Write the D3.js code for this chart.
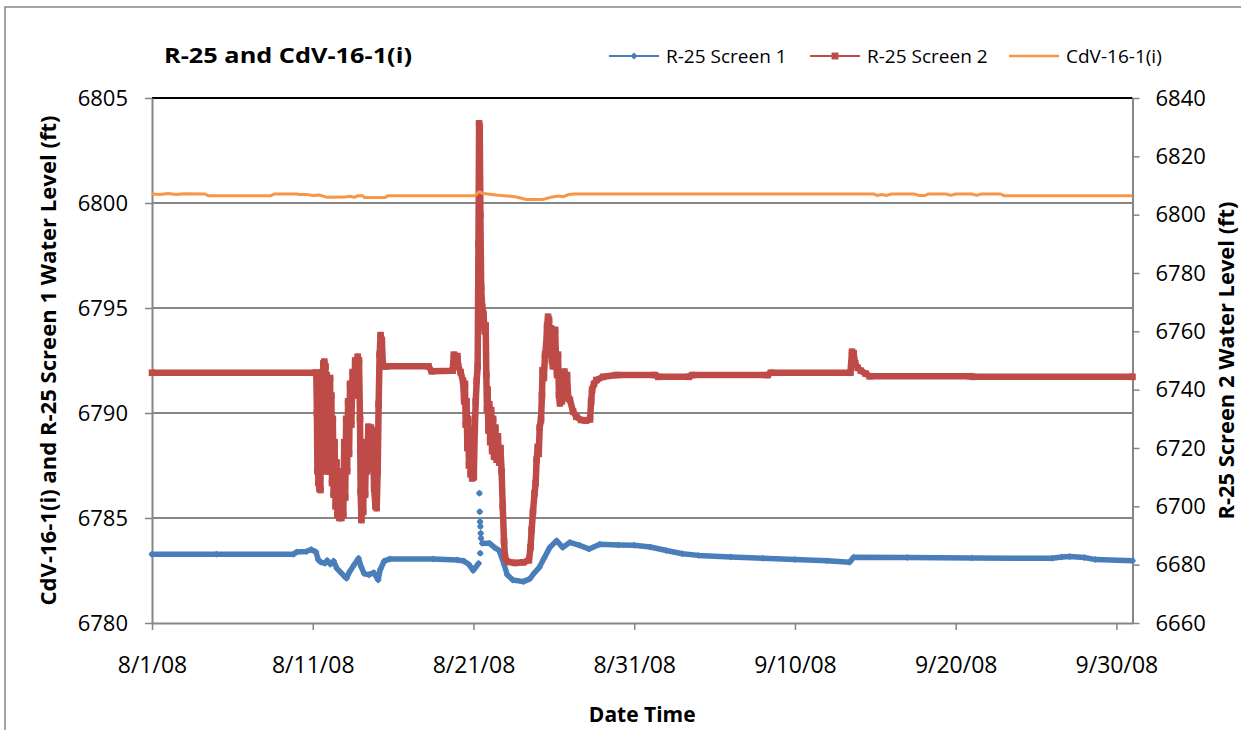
<!DOCTYPE html>
<html>
<head>
<meta charset="utf-8">
<script src="https://cdn.jsdelivr.net/npm/d3@7"></script>
<style>
  body { margin: 0; background: #fff; }
  svg { display: block; }
  text { font-family: "Open Sans", sans-serif; fill: #000; }
</style>
</head>
<body>
<svg width="1241" height="730"></svg>
<script>
// days after 8/1/08 00:00, value (ft)
var screen1 = [
  [0, 6783.27], [4, 6783.27], [8.8, 6783.27], [9.0, 6783.38], [9.6, 6783.4], [9.9, 6783.5],
  [10.2, 6783.38], [10.35, 6783.0], [10.5, 6782.9], [10.76, 6782.84], [10.9, 6782.98],
  [11.1, 6782.8], [11.3, 6782.95], [11.5, 6782.6], [11.75, 6782.4], [12.0, 6782.2],
  [12.1, 6782.13], [12.3, 6782.45], [12.6, 6782.8], [12.85, 6783.08], [13.0, 6782.7],
  [13.2, 6782.35], [13.5, 6782.3], [13.8, 6782.4], [14.07, 6782.05], [14.2, 6782.55],
  [14.45, 6782.95], [14.8, 6783.05], [17.5, 6783.05], [19.0, 6783.0], [19.4, 6782.95],
  [19.7, 6782.8], [19.98, 6782.5], [20.32, 6782.84],
  [20.34, null], [20.37, 6786.18], [20.38, null], [20.39, 6785.3], [20.40, null],
  [20.41, 6784.82], [20.42, null], [20.43, 6784.59], [20.44, null], [20.45, 6784.27],
  [20.46, null], [20.47, 6784.03], [20.48, null], [20.42, 6783.32], [20.5, null],
  [20.55, 6783.8], [21.0, 6783.8], [21.3, 6783.6], [21.6, 6783.45], [21.9, 6782.8],
  [22.1, 6782.3], [22.45, 6782.05], [23.1, 6781.97], [23.5, 6782.1], [23.8, 6782.4],
  [24.1, 6782.65], [24.4, 6783.1], [24.75, 6783.6], [25.17, 6783.92], [25.55, 6783.6],
  [26.0, 6783.84], [26.6, 6783.7], [27.2, 6783.52], [27.86, 6783.75], [29.0, 6783.72],
  [30.0, 6783.7], [31.0, 6783.62], [32.0, 6783.45], [33.0, 6783.3], [34.0, 6783.22],
  [36.0, 6783.14], [38.0, 6783.08], [40.0, 6783.02], [42.0, 6782.96], [43.4, 6782.89],
  [43.65, 6783.13], [47.0, 6783.12], [51.0, 6783.1], [56.0, 6783.08], [56.6, 6783.14],
  [57.1, 6783.17], [58.0, 6783.12], [58.7, 6783.02], [61, 6782.97]
];

var screen2 = [
  [0, 6745.8], [10.2, 6745.8],
  [10.22, 6745.8], [10.26, 6732], [10.29, 6712], [10.32, 6738], [10.35, 6708], [10.38, 6728],
  [10.42, 6706], [10.45, 6735], [10.48, 6705.6], [10.52, 6742], [10.55, 6714], [10.59, 6746],
  [10.62, 6720], [10.66, 6749], [10.69, 6716], [10.72, 6749.6], [10.76, 6722], [10.79, 6748],
  [10.83, 6712], [10.86, 6745], [10.90, 6718], [10.93, 6742], [10.97, 6712], [11.00, 6740],
  [11.04, 6716], [11.08, 6744], [11.12, 6712], [11.16, 6738], [11.20, 6708], [11.25, 6730],
  [11.30, 6704], [11.36, 6722], [11.42, 6700], [11.48, 6715], [11.54, 6697], [11.60, 6708],
  [11.66, 6696], [11.72, 6702], [11.78, 6696], [11.84, 6712], [11.90, 6697], [11.96, 6722],
  [12.02, 6703], [12.08, 6730], [12.14, 6712], [12.20, 6736], [12.26, 6718], [12.32, 6742],
  [12.40, 6728], [12.48, 6746], [12.56, 6738], [12.64, 6750], [12.72, 6744], [12.80, 6751.3],
  [12.88, 6750], [12.94, 6730], [12.98, 6705], [13.03, 6695.3], [13.09, 6712], [13.14, 6698],
  [13.20, 6718], [13.26, 6704], [13.32, 6722], [13.38, 6712], [13.46, 6727.3], [13.54, 6725],
  [13.62, 6727], [13.70, 6726], [13.76, 6718], [13.82, 6706], [13.90, 6700], [13.98, 6699.4],
  [14.04, 6712], [14.10, 6735], [14.16, 6752], [14.22, 6758.7], [14.30, 6757], [14.36, 6749],
  [14.44, 6748], [14.6, 6748], [17.2, 6748], [17.4, 6746.3], [18.7, 6746.5], [18.78, 6752],
  [19.0, 6751.5], [19.05, 6748], [19.2, 6746], [19.35, 6743], [19.42, 6736], [19.47, 6742],
  [19.52, 6728], [19.57, 6736], [19.62, 6720], [19.67, 6730], [19.72, 6714], [19.77, 6726],
  [19.82, 6711], [19.87, 6722], [19.92, 6709.6], [19.97, 6718], [20.02, 6710], [20.08, 6726],
  [20.14, 6736], [20.2, 6743], [20.26, 6748], [20.31, 6790], [20.35, 6831.3], [20.39, 6830],
  [20.43, 6800], [20.48, 6775], [20.54, 6768.4], [20.62, 6766], [20.70, 6760], [20.76, 6762],
  [20.80, 6745], [20.84, 6733], [20.88, 6740], [20.93, 6726], [20.98, 6735], [21.04, 6722],
  [21.10, 6733], [21.16, 6719], [21.22, 6730], [21.28, 6717], [21.36, 6727], [21.44, 6716],
  [21.52, 6724], [21.60, 6715], [21.68, 6720], [21.75, 6712], [21.82, 6700], [21.90, 6688],
  [21.96, 6682.7], [22.1, 6681], [22.6, 6680.6], [23.1, 6680.8], [23.45, 6681.5], [23.55, 6686],
  [23.62, 6692], [23.70, 6698], [23.80, 6704.5], [23.87, 6708], [23.93, 6716], [24.0, 6720.4],
  [24.06, 6718], [24.12, 6727], [24.2, 6729.6], [24.26, 6738], [24.3, 6746.7], [24.38, 6744],
  [24.45, 6752], [24.52, 6755], [24.58, 6762], [24.64, 6765], [24.70, 6764], [24.76, 6752],
  [24.82, 6761], [24.88, 6750], [24.94, 6748], [25.0, 6757], [25.08, 6760.5], [25.14, 6750],
  [25.2, 6745], [25.26, 6752], [25.32, 6738], [25.38, 6735.3], [25.44, 6742], [25.5, 6736],
  [25.58, 6744], [25.66, 6746.2], [25.74, 6740], [25.82, 6745], [25.9, 6737], [26.0, 6736.5],
  [26.2, 6732.5], [26.4, 6730.7], [26.7, 6729.6], [27.0, 6729.4], [27.25, 6729.8], [27.32, 6736],
  [27.38, 6740], [27.5, 6742], [27.65, 6743.3], [28.07, 6744.4], [28.9, 6745], [31.3, 6745],
  [31.5, 6744.4], [33.4, 6744.4], [33.6, 6745], [38.3, 6745], [38.5, 6745.8], [43.45, 6745.8],
  [43.55, 6753], [43.65, 6752.5], [43.75, 6749], [43.9, 6747.5], [44.1, 6746.5], [44.4, 6745.5],
  [44.65, 6744.6], [50.9, 6744.6], [51.1, 6744.4], [61, 6744.4]
];

var cdv = [
  [0, 6800.43], [0.5, 6800.41], [1.0, 6800.45], [1.5, 6800.41], [2.0, 6800.44], [3.3, 6800.43],
  [3.5, 6800.35], [7.4, 6800.35], [7.6, 6800.43], [9.0, 6800.43], [9.2, 6800.40], [9.6, 6800.41],
  [10.0, 6800.36], [10.4, 6800.38], [10.9, 6800.27], [12.0, 6800.28], [12.3, 6800.32],
  [12.6, 6800.27], [12.8, 6800.35], [13.1, 6800.35], [13.2, 6800.26], [14.5, 6800.26],
  [14.7, 6800.35], [20.1, 6800.35], [20.36, 6800.54], [20.6, 6800.45], [21.4, 6800.38],
  [22.6, 6800.30], [23.3, 6800.17], [24.3, 6800.17], [24.8, 6800.27], [25.3, 6800.33],
  [25.6, 6800.30], [25.9, 6800.40], [26.3, 6800.43], [44.9, 6800.43], [45.1, 6800.36],
  [45.4, 6800.40], [45.7, 6800.36], [46.0, 6800.43], [47.4, 6800.43], [47.7, 6800.36],
  [48.1, 6800.36], [48.3, 6800.43], [49.4, 6800.43], [49.7, 6800.36], [50.0, 6800.43],
  [51.0, 6800.43], [51.3, 6800.36], [51.6, 6800.43], [52.8, 6800.43], [53.0, 6800.35],
  [61, 6800.35]
];

var leftTicks = [6780, 6785, 6790, 6795, 6800, 6805];
var rightTicks = [6660, 6680, 6700, 6720, 6740, 6760, 6780, 6800, 6820, 6840];
var dateTicks = ["2008-08-01", "2008-08-11", "2008-08-21", "2008-08-31", "2008-09-10", "2008-09-20", "2008-09-30"];

var seriesNames = ["R-25 Screen 1", "R-25 Screen 2", "CdV-16-1(i)"];
var colors = ["#4A7EBB", "#BE4B48", "#F79646"];

var svg = d3.select("svg");
var plotLeft = 152, plotRight = 1132.5, plotTop = 98, plotBottom = 623;
var gray = "#868686";

var start = new Date(2008, 7, 1);
var toDate = function(d) { return new Date(start.getTime() + d * 864e5); };
var parse = d3.timeParse("%Y-%m-%d");

var x = d3.scaleTime().domain([start, new Date(2008, 9, 1)]).range([plotLeft, plotRight]);
var yL = d3.scaleLinear().domain([6780, 6805]).range([plotBottom, plotTop]);
var yR = d3.scaleLinear().domain([6660, 6840]).range([plotBottom, plotTop]);

// chart frame (only top/left edges fall inside the picture)
svg.append("rect").attr("x", 5).attr("y", 7).attr("width", 1400).attr("height", 900)
  .attr("fill", "none").attr("stroke", gray).attr("stroke-width", 1.5);

// gridlines
svg.append("g").selectAll("line")
  .data(leftTicks.slice(1, -1))
  .enter().append("line")
  .attr("x1", plotLeft).attr("x2", plotRight)
  .attr("y1", function(d) { return yL(d); })
  .attr("y2", function(d) { return yL(d); })
  .attr("stroke", gray).attr("stroke-width", 2);

svg.append("line")
  .attr("x1", plotLeft).attr("x2", plotRight)
  .attr("y1", yL(6805)).attr("y2", yL(6805))
  .attr("stroke", "#000").attr("stroke-width", 2);

// axes
var styleAxis = function(size) {
  return function(g) {
    g.selectAll(".domain").attr("stroke", gray).attr("stroke-width", 2);
    g.selectAll(".tick line").attr("stroke", gray).attr("stroke-width", 1.5);
    g.selectAll("text").attr("font-size", size).attr("font-family", "Open Sans").attr("fill", "#000");
  };
};

svg.append("g").attr("transform", "translate(" + plotLeft + ",0)")
  .call(d3.axisLeft(yL).tickValues(leftTicks).tickSize(7).tickSizeOuter(0).tickPadding(17).tickFormat(d3.format("d")))
  .call(styleAxis(22));

svg.append("g").attr("transform", "translate(" + plotRight + ",0)")
  .call(d3.axisRight(yR).tickValues(rightTicks).tickSize(7).tickSizeOuter(0).tickPadding(16).tickFormat(d3.format("d")))
  .call(styleAxis(22));

svg.append("g").attr("transform", "translate(0," + plotBottom + ")")
  .call(d3.axisBottom(x).tickValues(dateTicks.map(parse)).tickSize(7).tickSizeOuter(0).tickPadding(27)
    .tickFormat(d3.timeFormat("%-m/%-d/%y")))
  .call(styleAxis(23));

// series
var lineL = d3.line().defined(function(d) { return d[1] != null; })
  .x(function(d) { return x(toDate(d[0])); })
  .y(function(d) { return yL(d[1]); });
var lineR = d3.line().defined(function(d) { return d[1] != null; })
  .x(function(d) { return x(toDate(d[0])); })
  .y(function(d) { return yR(d[1]); });

var plot = svg.append("g");

plot.append("path").datum(screen1).attr("d", lineL)
  .attr("fill", "none").attr("stroke", colors[0]).attr("stroke-width", 5.5)
  .attr("stroke-linejoin", "round").attr("stroke-linecap", "round");
plot.append("g").selectAll("path")
  .data(screen1.filter(function(d) { return d[1] != null; }))
  .enter().append("path")
  .attr("d", d3.symbol(d3.symbolSquare, 24))
  .attr("transform", function(d) { return "translate(" + x(toDate(d[0])) + "," + yL(d[1]) + ") rotate(45)"; })
  .attr("fill", colors[0]);

plot.append("path").datum(screen2).attr("d", lineR)
  .attr("fill", "none").attr("stroke", colors[1]).attr("stroke-width", 6.5)
  .attr("stroke-linejoin", "round");
plot.append("g").selectAll("path")
  .data(screen2)
  .enter().append("path")
  .attr("d", d3.symbol(d3.symbolSquare, 44))
  .attr("transform", function(d) { return "translate(" + x(toDate(d[0])) + "," + yR(d[1]) + ")"; })
  .attr("fill", colors[1]);

plot.append("path").datum(cdv).attr("d", lineL)
  .attr("fill", "none").attr("stroke", colors[2]).attr("stroke-width", 3)
  .attr("stroke-linejoin", "round");

// title
svg.append("text").attr("x", 164).attr("y", 63)
  .attr("font-size", 22).attr("font-weight", "bold")
  .attr("textLength", 248).attr("lengthAdjust", "spacingAndGlyphs")
  .text("R-25 and CdV-16-1(i)");

// legend
var legendX = [609, 810, 1009];
var legend = svg.append("g").selectAll("g")
  .data(seriesNames)
  .enter().append("g")
  .attr("transform", function(d, i) { return "translate(" + legendX[i] + ",56)"; });
legend.append("line").attr("x1", 0).attr("x2", 50).attr("y1", 0).attr("y2", 0)
  .attr("stroke", function(d, i) { return colors[i]; })
  .attr("stroke-width", function(d, i) { return i === 2 ? 2.5 : 2; });
legend.filter(function(d, i) { return i === 0; }).append("path")
  .attr("d", d3.symbol(d3.symbolSquare, 26))
  .attr("transform", "translate(25,0) rotate(45)")
  .attr("fill", colors[0]);
legend.filter(function(d, i) { return i === 1; }).append("path")
  .attr("d", d3.symbol(d3.symbolSquare, 48))
  .attr("transform", "translate(25,0)")
  .attr("fill", colors[1]);
legend.append("text").attr("x", 57).attr("y", 7)
  .attr("font-size", 19)
  .text(function(d) { return d; });

// axis titles
svg.append("text")
  .attr("transform", "translate(56," + (plotTop + plotBottom) / 2 + ") rotate(-90)")
  .attr("text-anchor", "middle").attr("font-size", 21).attr("font-weight", "bold")
  .attr("textLength", 490).attr("lengthAdjust", "spacingAndGlyphs")
  .text("CdV-16-1(i) and R-25 Screen 1 Water Level (ft)");

svg.append("text")
  .attr("transform", "translate(1234," + (plotTop + plotBottom) / 2 + ") rotate(-90)")
  .attr("text-anchor", "middle").attr("font-size", 21).attr("font-weight", "bold")
  .attr("textLength", 318).attr("lengthAdjust", "spacingAndGlyphs")
  .text("R-25 Screen 2 Water Level (ft)");

svg.append("text")
  .attr("x", (plotLeft + plotRight) / 2).attr("y", 722)
  .attr("text-anchor", "middle").attr("font-size", 21).attr("font-weight", "bold")
  .text("Date Time");
</script>
</body>
</html>
